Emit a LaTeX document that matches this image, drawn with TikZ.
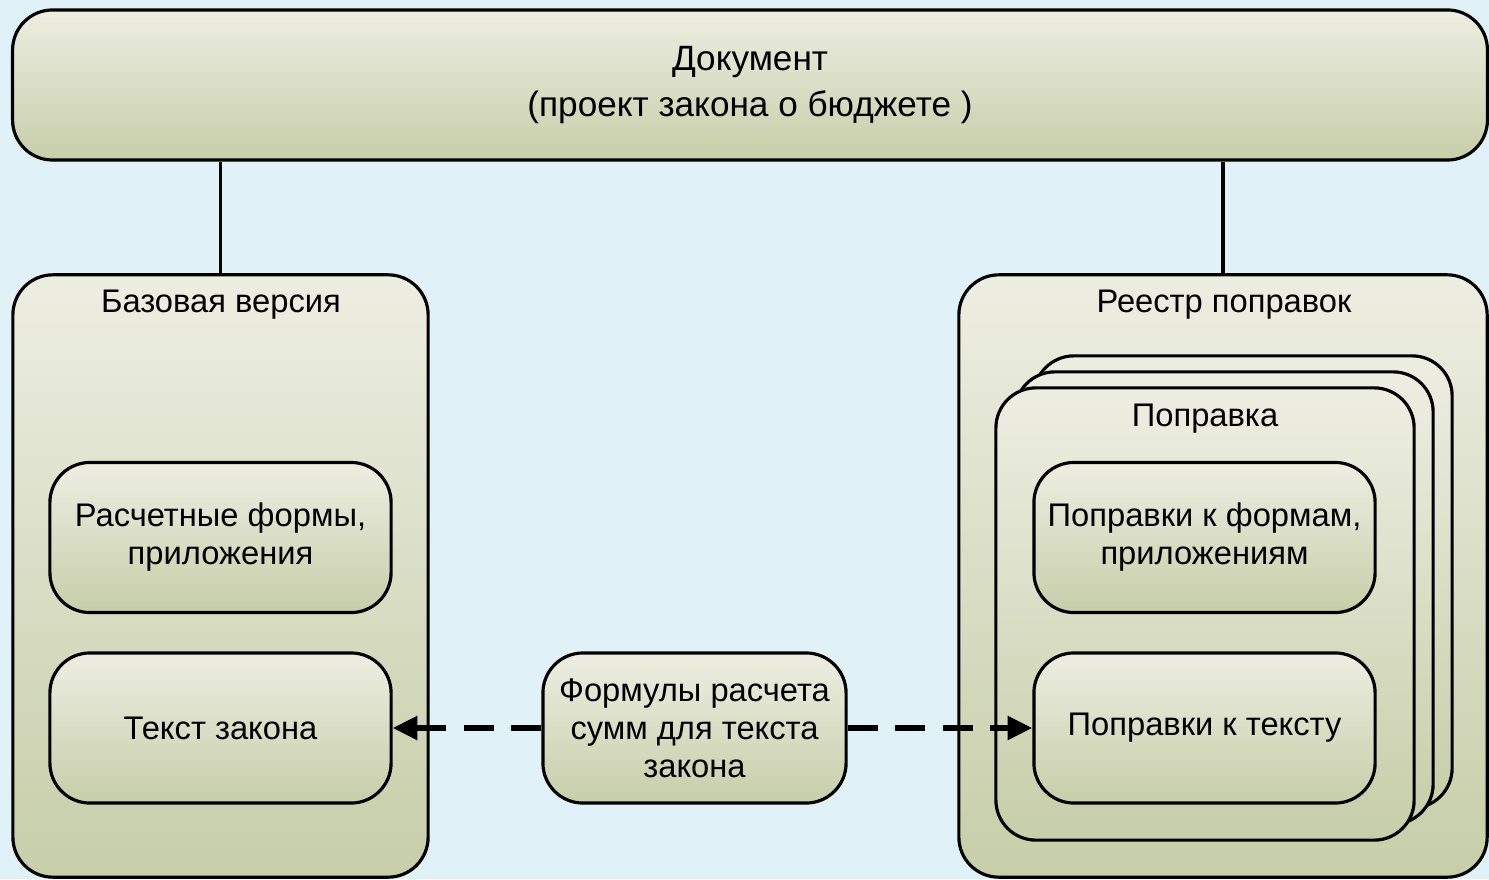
\documentclass[tikz,border=0pt]{standalone}
\usepackage{fontspec}
\setmainfont{Liberation Sans}
\usetikzlibrary{arrows.meta,positioning}
\definecolor{bgblue}{HTML}{E0F2F7}
\definecolor{boxtop}{HTML}{EDEEE2}
\definecolor{boxbot}{HTML}{C7CEA9}
\tikzset{
  panel/.style={draw=black, line width=0.9pt, rounded corners=0.4cm, top color=boxtop, bottom color=boxbot, inner sep=0pt},
  item/.style={panel, align=center, font=\fontsize{9.3}{10.8}\selectfont, minimum width=3.41cm, minimum height=1.5cm},
  title/.style={font=\fontsize{9.3}{11}\selectfont, inner sep=0pt},
  link/.style={line width=0.9pt},
  dasharrow/.style={-{Triangle[length=7pt,width=6.5pt]}, line width=1.6pt, dash pattern=on 8.5pt off 5pt}
}
\begin{document}
\begin{tikzpicture}[x=0.01cm, y=-0.01cm]
  \fill[bgblue] (0,0) rectangle (1489,879);
  \useasboundingbox (0,0) rectangle (1489,879);

  % top
  \node[panel, align=center, font=\fontsize{10}{13}\selectfont, minimum width=14.74cm, minimum height=1.5cm] (doc) at (750,85) {Документ\\(проект закона о бюджете )};

  % base version
  \node[panel, minimum width=4.15cm, minimum height=6.02cm] (base) at (220.5,576) {};
  \node[title] (basetitle) at (221,305) {Базовая версия};
  \node[item] (forms) at (220.5,537.5) {Расчетные формы,\\приложения};
  \node[item] (lawtext) at (220.5,728) {Текст закона};

  % amendments register
  \node[panel, minimum width=5.28cm, minimum height=6.02cm] (reg) at (1223,576) {};
  \node[title] (regtitle) at (1224,305) {Реестр поправок};
  \node[panel, minimum width=4.18cm, minimum height=4.52cm] (amend3) at (1243,582) {};
  \node[panel, minimum width=4.18cm, minimum height=4.52cm] (amend2) at (1224,598) {};
  \node[panel, minimum width=4.18cm, minimum height=4.52cm] (amend) at (1205,614) {};
  \node[title] (amendtitle) at (1205,419) {Поправка};
  \node[item] (amdforms) at (1204.5,537.5) {Поправки к формам,\\приложениям};
  \node[item] (amdtext) at (1204.5,728) {Поправки к тексту};

  % formulas
  \node[item, minimum width=3.03cm] (formula) at (694.5,728) {Формулы расчета\\сумм для текста\\закона};

  \draw[link] (base.north |- doc.south) -- (base.north);
  \draw[link] (reg.north |- doc.south) -- (reg.north);
  \draw[dasharrow] (formula.west) -- (lawtext.east);
  \draw[dasharrow] (formula.east) -- (amdtext.west);
\end{tikzpicture}
\end{document}
